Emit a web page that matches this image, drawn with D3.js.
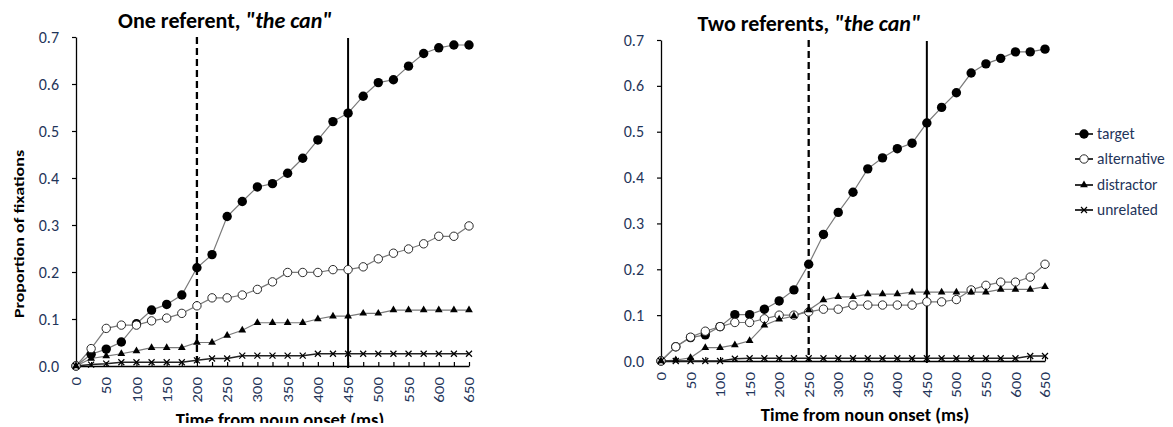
<!DOCTYPE html>
<html>
<head>
<meta charset="utf-8">
<script src="https://cdn.jsdelivr.net/npm/d3@7"></script>
<style>
  html, body { margin: 0; padding: 0; background: #fff; }
  svg { display: block; }
  text { font-family: Carlito, Calibri, Lato, "Open Sans", sans-serif; }
</style>
</head>
<body>
<svg id="chart" width="1173" height="427"></svg>
<script>
// Time bins (ms from noun onset)
const timesMs = [0, 25, 50, 75, 100, 125, 150, 175, 200, 225, 250, 275, 300, 325,
                 350, 375, 400, 425, 450, 475, 500, 525, 550, 575, 600, 625, 650];
const xTickLabels = ["0", "50", "100", "150", "200", "250", "300", "350",
                     "400", "450", "500", "550", "600", "650"];
const yTickValues = [0, 0.1, 0.2, 0.3, 0.4, 0.5, 0.6, 0.7];
const seriesNames = ["target", "alternative", "distractor", "unrelated"];

// One referent condition
const oneTarget = [0, 0.025, 0.036, 0.051, 0.09, 0.119, 0.131, 0.151, 0.209, 0.237, 0.318, 0.35,
                   0.381, 0.388, 0.41, 0.442, 0.481, 0.52, 0.538, 0.574, 0.603, 0.609, 0.638,
                   0.665, 0.677, 0.683, 0.683];
const oneAlternative = [0, 0.037, 0.08, 0.087, 0.087, 0.096, 0.102, 0.112, 0.128, 0.145, 0.145,
                        0.151, 0.163, 0.179, 0.199, 0.199, 0.199, 0.205, 0.205, 0.211, 0.228,
                        0.24, 0.249, 0.26, 0.276, 0.276, 0.298];
const oneDistractor = [0, 0.016, 0.021, 0.026, 0.032, 0.039, 0.039, 0.039, 0.05, 0.05, 0.065,
                       0.076, 0.092, 0.092, 0.092, 0.092, 0.1, 0.106, 0.106, 0.112, 0.112,
                       0.119, 0.119, 0.119, 0.119, 0.119, 0.119];
const oneUnrelated = [0, 0.003, 0.005, 0.008, 0.008, 0.008, 0.008, 0.008, 0.012, 0.016, 0.016,
                      0.022, 0.022, 0.022, 0.022, 0.022, 0.026, 0.026, 0.026, 0.026, 0.026,
                      0.026, 0.026, 0.026, 0.026, 0.026, 0.026];

// Two referents condition
const twoTarget = [0, 0.031, 0.051, 0.057, 0.075, 0.101, 0.101, 0.113, 0.131, 0.155, 0.211,
                   0.276, 0.324, 0.368, 0.419, 0.443, 0.463, 0.475, 0.519, 0.553, 0.585,
                   0.628, 0.648, 0.66, 0.674, 0.674, 0.68];
const twoAlternative = [0, 0.031, 0.052, 0.065, 0.075, 0.084, 0.084, 0.092, 0.1, 0.1, 0.107,
                        0.113, 0.113, 0.122, 0.122, 0.122, 0.122, 0.122, 0.129, 0.129, 0.134,
                        0.155, 0.165, 0.172, 0.172, 0.183, 0.211];
const twoDistractor = [0, 0.002, 0.007, 0.029, 0.029, 0.035, 0.044, 0.078, 0.091, 0.098, 0.111,
                       0.133, 0.14, 0.14, 0.146, 0.146, 0.146, 0.15, 0.15, 0.15, 0.15, 0.15,
                       0.15, 0.156, 0.156, 0.156, 0.162];
const twoUnrelated = [0, 0, 0, 0, 0, 0.005, 0.006, 0.006, 0.006, 0.006, 0.006, 0.006, 0.006,
                      0.006, 0.006, 0.006, 0.006, 0.006, 0.006, 0.006, 0.006, 0.006, 0.006,
                      0.006, 0.006, 0.011, 0.011];

const TICK_COLOR = "#1f355a";
const LINE_GRAY = "#7a7a7a";
const FONT = "Carlito, Calibri, Lato, sans-serif";

const svg = d3.select("#chart");

// clip for the lower edge of the left panel
svg.append("defs").append("clipPath").attr("id", "leftClip")
  .append("rect").attr("x", 0).attr("y", 0).attr("width", 600).attr("height", 423);

// marker drawing per series
function drawMarker(sel, kind) {
  if (kind === "target") {
    sel.append("circle").attr("r", 4.7).attr("fill", "#000");
  } else if (kind === "alternative") {
    sel.append("circle").attr("r", 4.2).attr("fill", "#fff")
      .attr("stroke", "#2a2a2a").attr("stroke-width", 1);
  } else if (kind === "distractor") {
    sel.append("path").attr("d", d3.symbol(d3.symbolTriangle, 26)()).attr("fill", "#000");
  } else {
    sel.append("path").attr("d", "M-3,-3L3,3M-3,3L3,-3")
      .attr("stroke", "#000").attr("stroke-width", 1.2).attr("fill", "none");
  }
}

function drawPanel(cfg) {
  const g = svg.append("g").attr("clip-path", cfg.clip || null);
  const x = d3.scaleLinear().domain([0, 650]).range([cfg.left, cfg.right]);
  const y = d3.scaleLinear().domain([0, 0.7]).range([cfg.bottom, cfg.top]);

  // y axis
  const yAxis = g.append("g").attr("transform", `translate(${cfg.left},0)`)
    .call(d3.axisLeft(y).tickValues(yTickValues).tickFormat(d3.format(".1f"))
      .tickSize(4).tickSizeOuter(0).tickPadding(13));
  yAxis.select(".domain").attr("stroke", "#000").attr("stroke-width", 1.3);
  yAxis.selectAll(".tick line").attr("stroke", "#000").attr("stroke-width", 1.2);
  yAxis.selectAll(".tick text").attr("fill", TICK_COLOR)
    .style("font-size", "16px").style("font-family", FONT);

  // x axis
  const xAxis = g.append("g").attr("transform", `translate(0,${cfg.bottom})`)
    .call(d3.axisBottom(x).tickValues(timesMs).tickSize(-4).tickSizeOuter(0)
      .tickFormat(d => xTickLabels.includes(String(d)) ? String(d) : ""));
  xAxis.select(".domain").attr("stroke", "#000").attr("stroke-width", 1.3);
  xAxis.selectAll(".tick line").attr("stroke", "#000").attr("stroke-width", 1.2);
  xAxis.selectAll(".tick text")
    .attr("fill", TICK_COLOR)
    .attr("text-anchor", "end")
    .attr("y", 0).attr("dy", "0.33em")
    .attr("transform", "translate(0,11) rotate(-90) scale(1,0.82)")
    .style("font-size", "17px").style("font-family", FONT);

  const line = d3.line().x((d, i) => x(timesMs[i])).y(d => y(d));

  // connecting lines
  cfg.series.forEach((vals, si) => {
    g.append("path").datum(vals)
      .attr("d", line).attr("fill", "none")
      .attr("stroke", si === 3 ? "#222" : LINE_GRAY)
      .attr("stroke-width", si === 3 ? 1.5 : 1.2);
  });

  // reference lines
  g.append("line")
    .attr("x1", x(cfg.dashedAt)).attr("x2", x(cfg.dashedAt))
    .attr("y1", y(0.7)).attr("y2", y(0))
    .attr("stroke", "#000").attr("stroke-width", 2.3).attr("stroke-dasharray", "7,4");
  g.append("line")
    .attr("x1", x(450)).attr("x2", x(450))
    .attr("y1", y(0.7) + 1).attr("y2", y(0) + 2)
    .attr("stroke", "#000").attr("stroke-width", 2);

  // markers
  cfg.series.forEach((vals, si) => {
    vals.forEach((v, i) => {
      const m = g.append("g").attr("transform", `translate(${x(timesMs[i])},${y(v)})`);
      drawMarker(m, seriesNames[si]);
    });
  });

  // panel title
  const t = g.append("text")
    .attr("x", cfg.titleX).attr("y", cfg.titleY)
    .attr("text-anchor", "middle")
    .style("font-size", "22px").style("font-weight", "bold").attr("fill", "#000");
  t.append("tspan").text(cfg.title);
  t.append("tspan").style("font-style", "italic").text("\"the can\"");

  // x axis title
  g.append("text")
    .attr("x", cfg.xTitleX).attr("y", cfg.xTitleY)
    .attr("text-anchor", "middle")
    .style("font-size", "18.5px").style("font-weight", "bold").attr("fill", "#000")
    .text("Time from noun onset (ms)");
}

drawPanel({
  left: 76, right: 469, top: 37, bottom: 366,
  dashedAt: 200,
  series: [oneTarget, oneAlternative, oneDistractor, oneUnrelated],
  title: "One referent, ", titleX: 225, titleY: 28,
  xTitleX: 280, xTitleY: 426,
  clip: "url(#leftClip)"
});

drawPanel({
  left: 661, right: 1045, top: 40, bottom: 361,
  dashedAt: 250,
  series: [twoTarget, twoAlternative, twoDistractor, twoUnrelated],
  title: "Two referents, ", titleX: 809, titleY: 31,
  xTitleX: 865, xTitleY: 421
});

// y axis title (left panel)
svg.append("text")
  .attr("transform", "translate(24,234) rotate(-90) scale(1,0.8)")
  .attr("text-anchor", "middle")
  .style("font-size", "18px").style("font-weight", "bold").attr("fill", "#000")
  .text("Proportion of fixations");

// legend
const legendRows = [134, 159, 185, 210];
const legend = svg.append("g");
seriesNames.forEach((name, i) => {
  const row = legend.append("g").attr("transform", `translate(0,${legendRows[i]})`);
  row.append("line").attr("x1", 1075).attr("x2", 1093).attr("y1", 0).attr("y2", 0)
    .attr("stroke", "#000").attr("stroke-width", 1.6);
  const m = row.append("g").attr("transform", "translate(1084,0)");
  drawMarker(m, name);
  row.append("text").attr("x", 1097).attr("y", 0).attr("dy", "0.33em")
    .attr("fill", TICK_COLOR).style("font-size", "15.5px").text(name);
});
</script>
</body>
</html>
